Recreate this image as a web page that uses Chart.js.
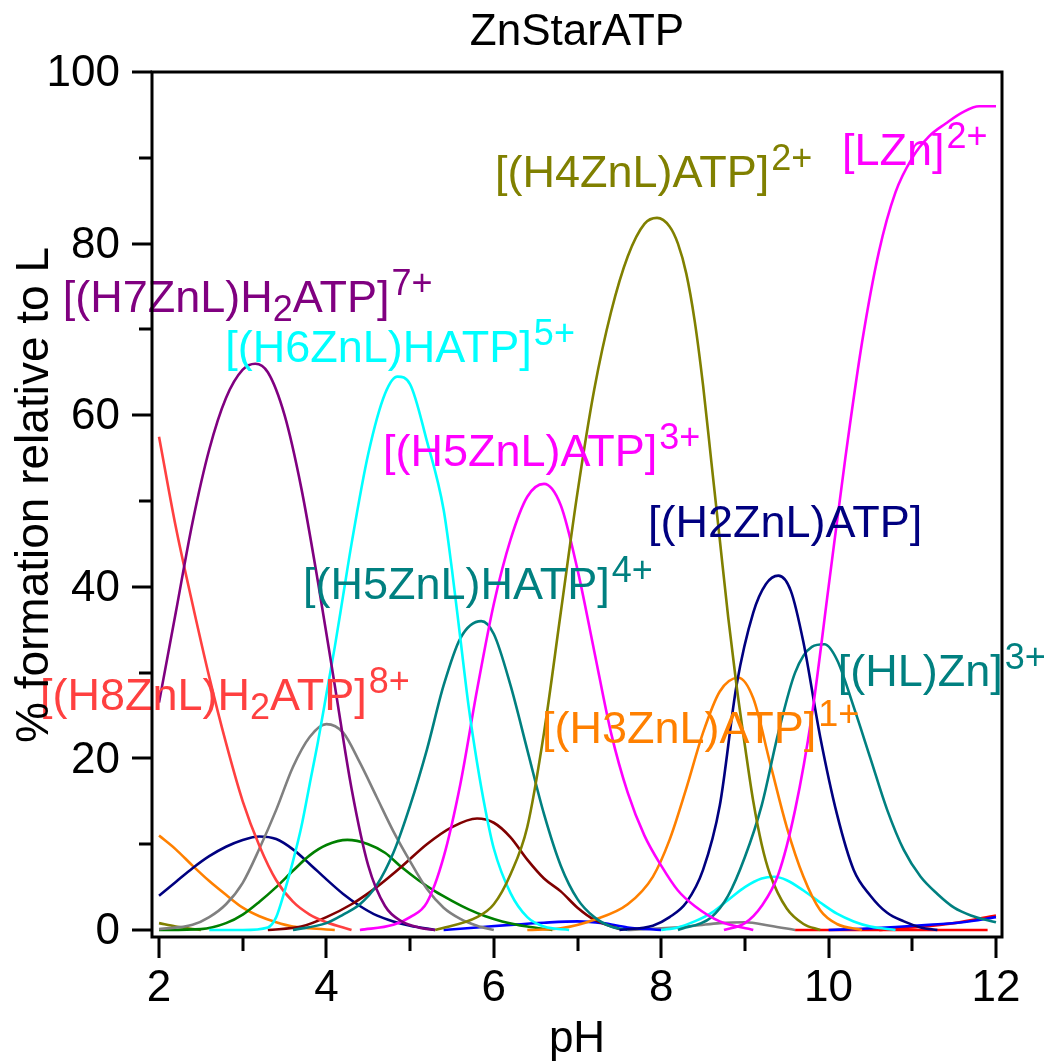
<!DOCTYPE html>
<html>
<head>
<meta charset="utf-8">
<title>ZnStarATP</title>
<script src="https://cdn.jsdelivr.net/npm/chart.js@4.4.1/dist/chart.umd.min.js"></script>
<style>
  html, body { margin: 0; padding: 0; background: #fff; }
  canvas { display: block; }
</style>
</head>
<body>
<canvas id="speciation" width="1053" height="1061"></canvas>
<script>
// Axis ticks
const xMajorTicks = [2, 4, 6, 8, 10, 12];
const xMinorTicks = [3, 5, 7, 9, 11];
const yMajorTicks = [0, 20, 40, 60, 80, 100];
const yMinorTicks = [10, 30, 50, 70, 90];

// Species curves: pH and % formation relative to L
const phH8 = [2.0, 2.2, 2.4, 2.6, 2.8, 3.0, 3.2, 3.4, 3.6, 3.8, 4.0, 4.3];
const pctH8 = [57.5, 47, 38, 29.5, 21.8, 15, 9.8, 5.8, 3.3, 1.8, 0.9, 0];

const phH7 = [2.0, 2.2, 2.4, 2.6, 2.8, 3.0, 3.15, 3.3, 3.5, 3.7, 3.9, 4.1, 4.3, 4.5, 4.7, 4.9, 5.1, 5.3];
const pctH7 = [26.5, 37, 47.5, 56, 62, 65.3, 66, 65, 60, 51.5, 40.5, 28.5, 16.5, 7.5, 2.8, 1.0, 0.3, 0];

const phH6 = [2.6, 3.0, 3.3, 3.4, 3.5, 3.6, 3.7, 3.8, 3.9, 4.0, 4.1, 4.2, 4.3, 4.5, 4.7, 4.85, 5.0, 5.2, 5.4, 5.5, 5.6, 5.7, 5.8, 5.9, 6.0, 6.2, 6.4, 6.6, 6.9];
const pctH6 = [0, 0, 0.3, 1.5, 4.5, 8, 12, 17, 22, 27.5, 33, 39, 45, 55.5, 62.5, 64.5, 63.6, 57, 49, 42, 34, 26, 19.5, 14, 9.5, 4.3, 1.5, 0.4, 0];

const phH5HATP = [3.6, 4.0, 4.2, 4.4, 4.6, 4.8, 5.0, 5.2, 5.4, 5.6, 5.85, 6.0, 6.2, 6.4, 6.6, 6.8, 7.0, 7.2, 7.4, 7.6];
const pctH5HATP = [0, 0.8, 1.8, 3.0, 5.2, 9.0, 14.5, 21, 28.5, 34, 36, 34.5, 28.5, 21, 13.5, 7.5, 3.6, 1.5, 0.4, 0];

const phMaroon = [3.3, 3.7, 4.0, 4.3, 4.6, 4.9, 5.2, 5.5, 5.8, 6.0, 6.2, 6.4, 6.6, 6.8, 7.0, 7.2, 7.5];
const pctMaroon = [0, 0.4, 1.5, 3.0, 5.0, 7.4, 10, 12, 13, 12.5, 10.8, 8.2, 6.0, 4.5, 2.6, 1.2, 0.1];

const phH5ATP = [4.4, 4.8, 5.0, 5.2, 5.4, 5.6, 5.8, 6.0, 6.2, 6.4, 6.6, 6.8, 7.0, 7.2, 7.4, 7.6, 7.8, 8.0, 8.2, 8.4, 8.7, 9.1];
const pctH5ATP = [0, 0.6, 1.5, 3.2, 8.5, 17, 28, 38, 45.5, 50.5, 52, 49.5, 42, 32.5, 23, 16, 11, 7.5, 4.6, 2.8, 1.0, 0];

const phH4 = [5.3, 5.8, 6.0, 6.2, 6.4, 6.6, 6.8, 7.0, 7.2, 7.4, 7.6, 7.8, 7.95, 8.1, 8.2, 8.3, 8.4, 8.5, 8.6, 8.7, 8.8, 8.9, 9.0, 9.1, 9.2, 9.3, 9.5, 9.7, 9.9];
const pctH4 = [0, 1.5, 3.0, 6.5, 12, 23, 37, 51, 63, 72, 78.5, 82.3, 83, 82, 80, 76.5, 71, 63.5, 54.5, 45.5, 36.5, 28.5, 21.5, 15, 10, 6.5, 2.5, 0.7, 0];

const phOliveLow = [2.0, 2.2, 2.5];
const pctOliveLow = [0.8, 0.4, 0];

const phH2 = [7.5, 7.9, 8.1, 8.3, 8.5, 8.7, 8.9, 9.1, 9.25, 9.4, 9.55, 9.7, 9.9, 10.1, 10.3, 10.5, 10.7, 10.9, 11.1, 11.3];
const pctH2 = [0, 0.5, 1.5, 3.2, 7.0, 14.5, 28.5, 37, 40.3, 41.3, 39.5, 33.5, 22.5, 13.5, 7.0, 4.0, 2.0, 1.0, 0.3, 0];

const phNavyLow = [2.0, 2.2, 2.4, 2.6, 2.8, 3.0, 3.2, 3.4, 3.6, 3.8, 4.0, 4.2, 4.4, 4.6, 4.8, 5.0, 5.3];
const pctNavyLow = [4.0, 5.6, 7.2, 8.6, 9.7, 10.5, 10.9, 10.6, 9.4, 7.7, 5.9, 4.2, 2.8, 1.7, 1.0, 0.5, 0];

const phHLZn = [8.2, 8.6, 8.8, 9.0, 9.2, 9.4, 9.6, 9.8, 9.95, 10.1, 10.3, 10.5, 10.7, 10.9, 11.1, 11.3, 11.5, 11.7, 12.0];
const pctHLZn = [0, 1.5, 4.0, 8.5, 14.5, 23, 30, 33, 33.3, 31.5, 26, 20, 14, 9.3, 6.2, 4.2, 2.6, 1.7, 0.9];

const phH3 = [6.4, 6.8, 7.2, 7.6, 7.9, 8.1, 8.3, 8.5, 8.7, 8.92, 9.1, 9.3, 9.5, 9.7, 9.9, 10.1, 10.4];
const pctH3 = [0, 0.2, 1.2, 3.0, 6.2, 10.5, 16.5, 23, 27.8, 29.4, 27, 19.5, 12, 6.2, 2.3, 0.7, 0];

const phOrangeLow = [2.0, 2.2, 2.4, 2.6, 2.8, 3.0, 3.2, 3.4, 3.6, 3.8, 4.1];
const pctOrangeLow = [11.0, 9.4, 7.5, 5.7, 4.1, 2.6, 1.6, 0.9, 0.4, 0.2, 0];

const phGreen = [2.0, 2.5, 2.8, 3.0, 3.2, 3.4, 3.6, 3.8, 4.0, 4.25, 4.5, 4.7, 4.9, 5.1, 5.3, 5.5, 5.7, 5.9, 6.1, 6.4, 6.7];
const pctGreen = [0, 0.1, 0.8, 1.8, 3.3, 5.0, 6.9, 8.7, 9.9, 10.5, 10.0, 9.0, 7.3, 5.8, 4.5, 3.4, 2.4, 1.6, 1.0, 0.4, 0];

const phGray = [2.0, 2.4, 2.6, 2.8, 3.0, 3.2, 3.4, 3.6, 3.8, 4.0, 4.2, 4.4, 4.6, 4.8, 5.0, 5.2, 5.4, 5.6, 5.8, 6.0];
const pctGray = [0.1, 0.6, 1.5, 3.0, 5.5, 9.5, 14, 19, 22.5, 24, 23, 19.5, 15.5, 11.5, 8, 4.8, 2.6, 1.3, 0.5, 0];

const phGrayHigh = [7.6, 8.0, 8.4, 8.7, 9.0, 9.3, 9.6];
const pctGrayHigh = [0, 0.2, 0.5, 0.8, 0.9, 0.5, 0];

const phCyanHigh = [8.0, 8.2, 8.4, 8.6, 8.8, 9.0, 9.2, 9.35, 9.5, 9.7, 9.9, 10.1, 10.3, 10.5, 10.8];
const pctCyanHigh = [0, 0.3, 1.0, 2.0, 3.5, 5.0, 6.0, 6.2, 5.8, 4.6, 3.2, 1.9, 1.0, 0.4, 0];

const phLZn = [8.75, 9.0, 9.2, 9.4, 9.6, 9.8, 10.0, 10.2, 10.4, 10.6, 10.8, 11.0, 11.2, 11.4, 11.6, 11.8, 12.0];
const pctLZn = [0, 0.8, 2.8, 6.5, 14, 25, 40, 55, 68.5, 79, 86, 90, 92.5, 94, 95.3, 96, 96];

const phBlueMid = [5.4, 5.8, 6.2, 6.6, 7.0, 7.3, 7.6, 8.0];
const pctBlueMid = [0, 0.3, 0.6, 0.85, 1.0, 0.8, 0.3, 0];

const phBlueHigh = [10.0, 10.4, 10.8, 11.2, 11.6, 12.0];
const pctBlueHigh = [0, 0.15, 0.35, 0.6, 0.9, 1.5];

const phRedFlat = [9.6, 11.9];
const pctRedFlat = [0, 0];

const phRedHigh = [10.6, 11.0, 11.5, 12.0];
const pctRedHigh = [0, 0.3, 0.8, 1.7];

// Series list (drawing order: first is on top)
const series = [
  { ph: phLZn, pct: pctLZn, color: "#ff00ff" },
  { ph: phH4, pct: pctH4, color: "#808000" },
  { ph: phH7, pct: pctH7, color: "#800080" },
  { ph: phH6, pct: pctH6, color: "#00ffff" },
  { ph: phH5ATP, pct: pctH5ATP, color: "#ff00ff" },
  { ph: phH2, pct: pctH2, color: "#000080" },
  { ph: phH5HATP, pct: pctH5HATP, color: "#008080" },
  { ph: phHLZn, pct: pctHLZn, color: "#008080" },
  { ph: phH3, pct: pctH3, color: "#ff8000" },
  { ph: phH8, pct: pctH8, color: "#ff4040" },
  { ph: phGray, pct: pctGray, color: "#808080" },
  { ph: phMaroon, pct: pctMaroon, color: "#800000" },
  { ph: phGreen, pct: pctGreen, color: "#008000" },
  { ph: phNavyLow, pct: pctNavyLow, color: "#000080" },
  { ph: phOrangeLow, pct: pctOrangeLow, color: "#ff8000" },
  { ph: phCyanHigh, pct: pctCyanHigh, color: "#00ffff" },
  { ph: phBlueHigh, pct: pctBlueHigh, color: "#0000ff" },
  { ph: phRedHigh, pct: pctRedHigh, color: "#ff0000" },
  { ph: phBlueMid, pct: pctBlueMid, color: "#0000ff" },
  { ph: phGrayHigh, pct: pctGrayHigh, color: "#808080" },
  { ph: phRedFlat, pct: pctRedFlat, color: "#ff0000" },
  { ph: phOliveLow, pct: pctOliveLow, color: "#808000" },
];

// Species labels, anchored at (pH, %) of the text's left baseline
const speciesLabels = [
  { parts: [["[(H7ZnL)H"], ["2", "sub"], ["ATP]"], ["7+", "sup"]], color: "#800080", ph: 0.85, pct: 72.0 },
  { parts: [["[(H6ZnL)HATP]"], ["5+", "sup"]], color: "#00ffff", ph: 2.79, pct: 66.2 },
  { parts: [["[(H4ZnL)ATP]"], ["2+", "sup"]], color: "#808000", ph: 6.014, pct: 86.6 },
  { parts: [["[LZn]"], ["2+", "sup"]], color: "#ff00ff", ph: 10.16, pct: 89.2 },
  { parts: [["[(H5ZnL)ATP]"], ["3+", "sup"]], color: "#ff00ff", ph: 4.676, pct: 54.1 },
  { parts: [["[(H2ZnL)ATP]"]], color: "#000080", ph: 7.842, pct: 45.8 },
  { parts: [["[(H5ZnL)HATP]"], ["4+", "sup"]], color: "#008080", ph: 3.72, pct: 38.6 },
  { parts: [["[(H8ZnL)H"], ["2", "sub"], ["ATP]"], ["8+", "sup"]], color: "#ff4040", ph: 0.578, pct: 25.6 },
  { parts: [["[(HL)Zn]"], ["3+", "sup"]], color: "#008080", ph: 10.11, pct: 28.4 },
  { parts: [["[(H3ZnL)ATP]"], ["1+", "sup"]], color: "#ff8000", ph: 6.576, pct: 21.8 },
];

const FONT = '"Liberation Sans", Arial, Helvetica, sans-serif';

function drawSpeciesLabel(ctx, x, y, label) {
  ctx.fillStyle = label.color;
  ctx.textAlign = "left";
  ctx.textBaseline = "alphabetic";
  let cx = x;
  label.parts.forEach(([text, kind]) => {
    if (kind === "sup") {
      ctx.font = "36px " + FONT;
      cx += 2;
      ctx.fillText(text, cx, y - 17);
    } else if (kind === "sub") {
      ctx.font = "36px " + FONT;
      ctx.fillText(text, cx, y + 9);
    } else {
      ctx.font = "45px " + FONT;
      ctx.fillText(text, cx, y);
    }
    cx += ctx.measureText(text).width;
  });
}

// Frame, ticks, titles and species labels
const framePlugin = {
  id: "frame",
  afterDraw(chart) {
    const ctx = chart.ctx;
    const xs = chart.scales.x;
    const ys = chart.scales.y;
    const area = chart.chartArea;
    ctx.save();

    speciesLabels.forEach((lab) => {
      drawSpeciesLabel(ctx, xs.getPixelForValue(lab.ph), ys.getPixelForValue(lab.pct), lab);
    });

    ctx.strokeStyle = "#000";
    ctx.lineWidth = 3;
    ctx.lineCap = "butt";
    ctx.strokeRect(area.left, area.top, area.right - area.left, area.bottom - area.top);

    ctx.beginPath();
    yMajorTicks.forEach((v) => {
      const y = Math.round(ys.getPixelForValue(v));
      ctx.moveTo(area.left, y);
      ctx.lineTo(area.left - 20, y);
    });
    yMinorTicks.forEach((v) => {
      const y = Math.round(ys.getPixelForValue(v));
      ctx.moveTo(area.left, y);
      ctx.lineTo(area.left - 13, y);
    });
    xMajorTicks.forEach((v) => {
      const x = Math.round(xs.getPixelForValue(v));
      ctx.moveTo(x, area.bottom);
      ctx.lineTo(x, area.bottom + 21);
    });
    xMinorTicks.forEach((v) => {
      const x = Math.round(xs.getPixelForValue(v));
      ctx.moveTo(x, area.bottom);
      ctx.lineTo(x, area.bottom + 14);
    });
    ctx.stroke();

    ctx.fillStyle = "#000";
    ctx.font = "44px " + FONT;
    ctx.textAlign = "right";
    ctx.textBaseline = "middle";
    yMajorTicks.forEach((v) => {
      ctx.fillText(String(v), area.left - 32, ys.getPixelForValue(v) + 2);
    });
    ctx.textAlign = "center";
    xMajorTicks.forEach((v) => {
      ctx.fillText(String(v), xs.getPixelForValue(v), area.bottom + 52);
    });

    const midX = (area.left + area.right) / 2;
    ctx.font = "44px " + FONT;
    ctx.textBaseline = "alphabetic";
    ctx.fillText("ZnStarATP", midX, 45);
    ctx.fillText("pH", midX, 1052);

    ctx.font = "46px " + FONT;
    ctx.translate(48, 495);
    ctx.rotate(-Math.PI / 2);
    ctx.fillText("% formation relative to L", 0, 0);
    ctx.restore();
  },
};

new Chart(document.getElementById("speciation"), {
  type: "line",
  data: {
    datasets: series.map((s) => ({
      data: s.ph.map((x, i) => ({ x: x, y: s.pct[i] })),
      borderColor: s.color,
      borderWidth: 2.6,
      pointRadius: 0,
      fill: false,
      cubicInterpolationMode: "monotone",
    })),
  },
  options: {
    responsive: false,
    animation: false,
    devicePixelRatio: 1,
    layout: { padding: { left: 152, top: 72, right: 51, bottom: 124 } },
    scales: {
      x: { type: "linear", min: 1.916, max: 12.072, display: false },
      y: { type: "linear", min: -0.816, max: 100, display: false },
    },
    plugins: {
      legend: { display: false },
      tooltip: { enabled: false },
      title: { display: false },
    },
  },
  plugins: [framePlugin],
});
</script>
</body>
</html>
